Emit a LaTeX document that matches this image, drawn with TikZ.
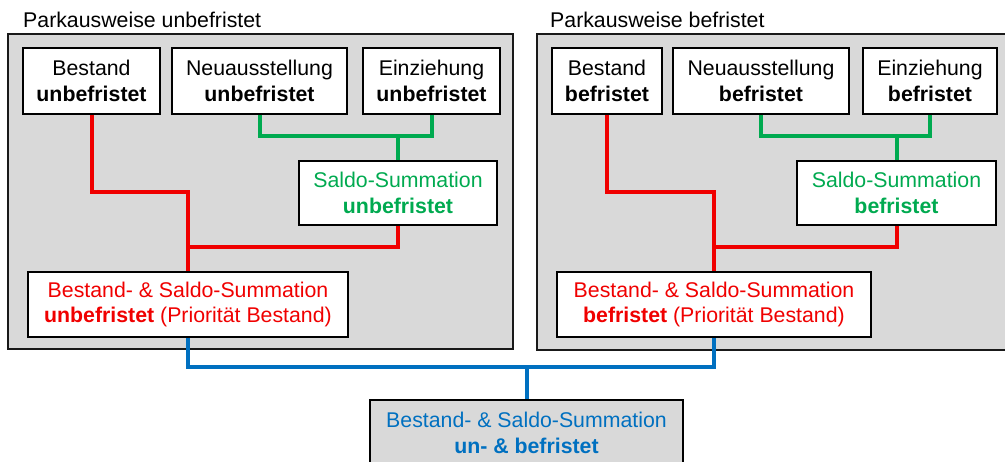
\documentclass[tikz,border=0pt]{standalone}
\usepackage{fontspec}
\setmainfont{Liberation Sans}
\definecolor{cred}{RGB}{240,0,0}
\definecolor{cgreen}{RGB}{0,170,80}
\definecolor{cblue}{RGB}{0,112,192}
\definecolor{cgrey}{RGB}{217,217,217}
\begin{document}
\begin{tikzpicture}[x=1pt,y=-1pt,
  every node/.style={font=\fontsize{21.3}{25.5}\selectfont},
  panel/.style={draw=black!90, line width=2.4pt, fill=cgrey},
  box/.style={draw=black, line width=1.6pt, fill=white, inner sep=0pt, align=center, minimum height=66pt},
  gbox/.style={box, fill=cgrey},
  title/.style={anchor=base west, inner sep=0pt},
  redline/.style={draw=cred, line width=4pt},
  greenline/.style={draw=cgreen, line width=4pt},
  blueline/.style={draw=cblue, line width=4pt}]
\useasboundingbox (0,0) rectangle (1005,461);
\clip (0,0) rectangle (1005,461);
\fill[white] (0,0) rectangle (1005,461);

% panels
\draw[panel] (8,34) rectangle (513,349);
\draw[panel] (537,34) rectangle (1030,350);
\node[title] (tL) at (23,27) {Parkausweise unbefristet};
\node[title] (tR) at (550,27) {Parkausweise befristet};

% helper levels
\coordinate (yG) at (0,136);
\coordinate (yR1) at (0,192);
\coordinate (yR2) at (0,247);
\coordinate (yB) at (0,367);

% left nodes
\node[box, minimum width=137pt] (bL) at (91.5,81) {Bestand\\\textbf{unbefristet}};
\node[box, minimum width=175pt] (nL) at (259.5,81) {Neuausstellung\\\textbf{unbefristet}};
\node[box, minimum width=137pt] (eL) at (431.5,81) {Einziehung\\\textbf{unbefristet}};
\node[box, minimum width=198pt, minimum height=64pt, text=cgreen] (sL) at (398,193) {Saldo-Summation\\\textbf{unbefristet}};
\node[box, minimum width=320pt, minimum height=65pt, text=cred] (pL) at (188,304.5) {Bestand- \& Saldo-Summation\\\textbf{unbefristet} (Priorität Bestand)};

% right nodes
\node[box, minimum width=110pt] (bR) at (607,81) {Bestand\\\textbf{befristet}};
\node[box, minimum width=176pt] (nR) at (761,81) {Neuausstellung\\\textbf{befristet}};
\node[box, minimum width=134pt] (eR) at (930,81) {Einziehung\\\textbf{befristet}};
\node[box, minimum width=199pt, minimum height=64pt, text=cgreen] (sR) at (896.5,193) {Saldo-Summation\\\textbf{befristet}};
\node[box, minimum width=314pt, minimum height=65pt, text=cred] (pR) at (714,304.5) {Bestand- \& Saldo-Summation\\\textbf{befristet} (Priorität Bestand)};

% bottom node
\node[gbox, minimum width=313pt, text=cblue] (bot) at (526.5,433) {Bestand- \& Saldo-Summation\\\textbf{un- \& befristet}};

% left connectors
\draw[greenline] (nL.south) -- (nL.south |- yG) -- (eL.south |- yG) -- (eL.south);
\draw[greenline] (sL.north |- yG) -- (sL.north);
\draw[redline] (bL.south) -- (bL.south |- yR1) -- (pL.north |- yR1) -- (pL.north);
\draw[redline] (sL.south) -- (sL.south |- yR2) -- (pL.north |- yR2);

% right connectors
\draw[greenline] (nR.south) -- (nR.south |- yG) -- (eR.south |- yG) -- (eR.south);
\draw[greenline] (sR.north |- yG) -- (sR.north);
\draw[redline] (bR.south) -- (bR.south |- yR1) -- (pR.north |- yR1) -- (pR.north);
\draw[redline] (sR.south) -- (sR.south |- yR2) -- (pR.north |- yR2);

% blue connectors
\draw[blueline] (pL.south) -- (pL.south |- yB) -- (pR.south |- yB) -- (pR.south);
\draw[blueline] (bot.north |- yB) -- (bot.north);
\end{tikzpicture}
\end{document}
